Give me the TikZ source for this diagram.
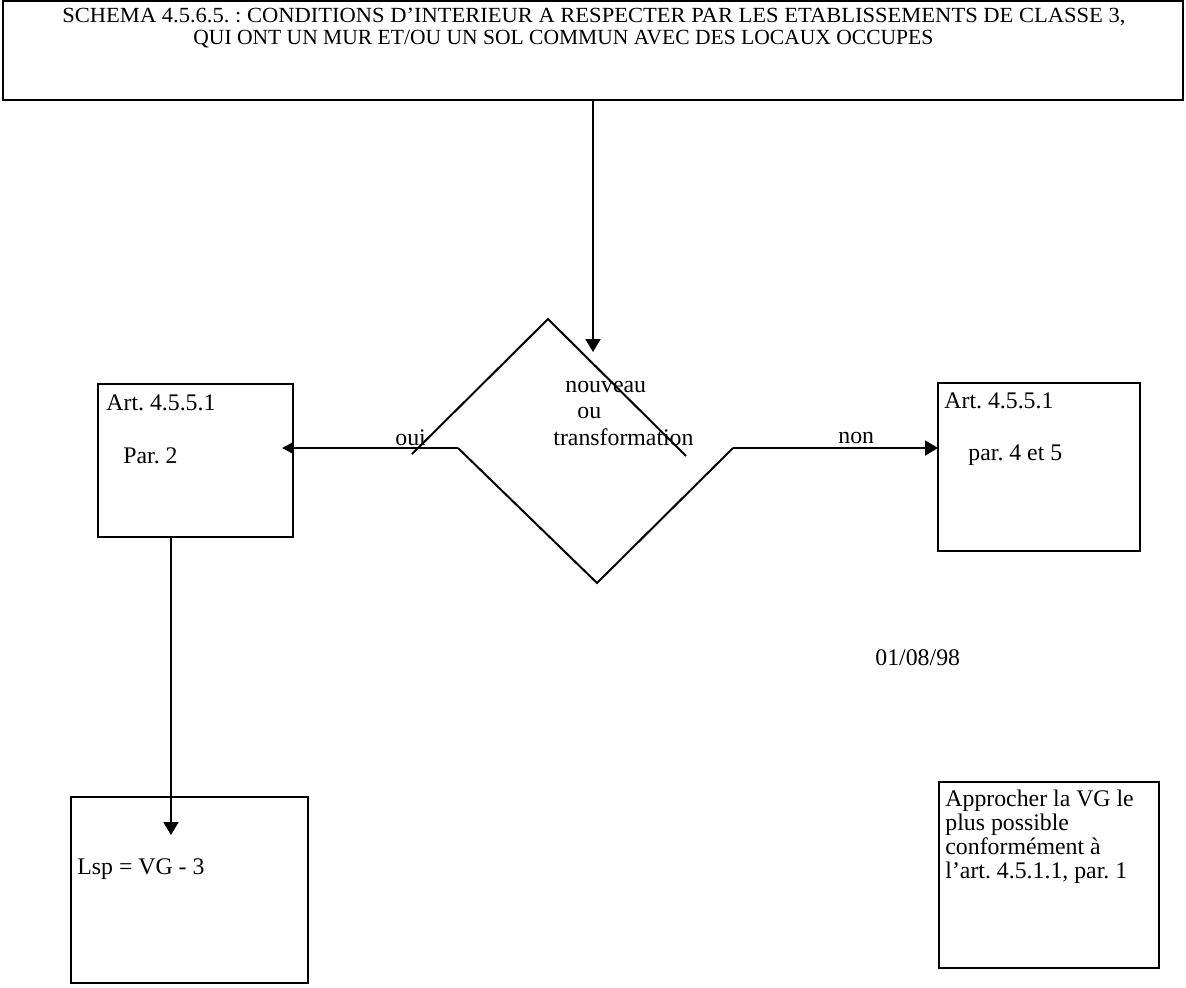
\documentclass[tikz,border=0pt]{standalone}
\usepackage{fontspec}
\setmainfont{Liberation Serif}
\usetikzlibrary{arrows.meta,fit}
\frenchspacing
\tikzset{
  frame/.style={draw, line width=1.2pt, inner sep=0pt},
  wire/.style={line width=1pt},
  arr/.style={wire, -{Triangle[length=6.5pt,width=7.5pt]}},
  arrsmall/.style={wire, -{Triangle[length=5pt,width=5pt]}},
  lbl/.style={anchor=base west, inner sep=0pt, font=\fontsize{11.9}{12}\selectfont},
  ttl/.style={anchor=base west, inner sep=0pt, font=\fontsize{10.8}{12}\selectfont},
}
\begin{document}
\begin{tikzpicture}[x=0.5pt,y=-0.5pt]
\useasboundingbox (0,0) rectangle (1186,987);

% frames
\node[frame, line width=1.4pt, fit={(3,1) (1183,100)}] (title) {};
\node[frame, fit={(98,384) (293,537)}] (lbox) {};
\node[frame, fit={(938,383) (1140,551)}] (rbox) {};
\node[frame, fit={(71,797) (308,983)}] (blbox) {};
\node[frame, fit={(939,782) (1159,968)}] (brbox) {};

% title text
\node[ttl] (t1) at (62,22) {\resizebox{531.5pt}{\height}{SCHEMA 4.5.6.5. : CONDITIONS D’INTERIEUR A RESPECTER PAR LES ETABLISSEMENTS DE CLASSE 3,}};
\node[ttl] (t2) at (193,44) {\resizebox{370pt}{\height}{QUI ONT UN MUR ET/OU UN SOL COMMUN AVEC DES LOCAUX OCCUPES}};

% decision: two offset open halves
\coordinate (dUL) at (412,454);
\coordinate (dTop) at (548,319);
\coordinate (dUR) at (686,456);
\coordinate (dLL) at (458,448);
\coordinate (dBot) at (597,583);
\coordinate (dLR) at (733,448);
\draw[wire] (dUL) -- (dTop) -- (dUR);
\draw[wire] (dLL) -- (dBot) -- (dLR);

\node[lbl] (q1) at (565,392) {nouveau};
\node[lbl] (q2) at (577,418) {ou};
\node[lbl] (q3) at (553,445) {transformation};

% connectors
\coordinate (topTip) at (593,352);
\coordinate (leftTip) at (282,448);
\coordinate (rightTip) at (938,448);
\coordinate (downStart) at (171,537);
\coordinate (downTip) at (171,835);
\draw[arr] (title.south) -- (topTip);
\draw[arrsmall] (dLL) -- (leftTip);
\draw[arr] (dLR) -- (rightTip);
\draw[arr] (downStart) -- (downTip);

\node[lbl] (oui) at (395,445) {oui};
\node[lbl] (non) at (838,443) {non};

% box texts
\node[lbl] (l1) at (106,410) {Art. 4.5.5.1};
\node[lbl] (l2) at (123,463) {Par. 2};
\node[lbl] (r1) at (944,408) {Art. 4.5.5.1};
\node[lbl] (r2) at (968,460) {par. 4 et 5};
\node[lbl] (date) at (875,665) {01/08/98};
\node[lbl] (lsp) at (77,874) {Lsp = VG - 3};
\node[lbl] (b1) at (945,806) {Approcher la VG le};
\node[lbl] (b2) at (945,830) {plus possible};
\node[lbl] (b3) at (945,854) {conformément à};
\node[lbl] (b4) at (945,878) {l’art. 4.5.1.1, par. 1};
\end{tikzpicture}
\end{document}
